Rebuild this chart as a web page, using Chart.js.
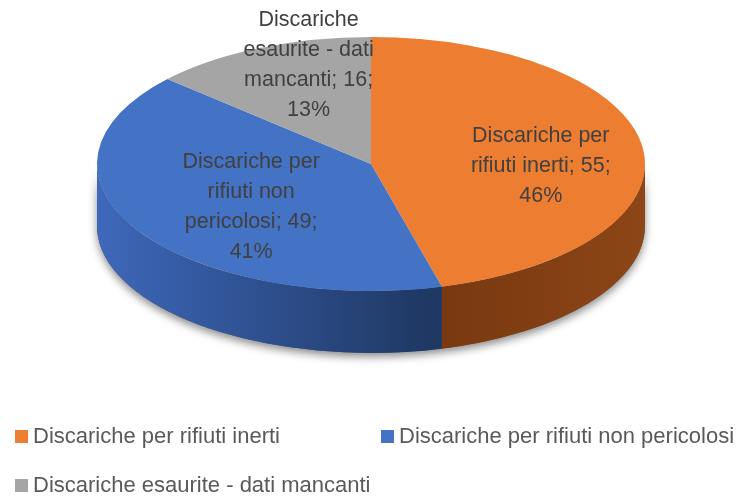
<!DOCTYPE html>
<html lang="it">
<head>
  <meta charset="UTF-8" />
  <title>Discariche</title>
  <script src="https://cdn.jsdelivr.net/npm/chart.js@4.4.1/dist/chart.umd.min.js"></script>
  <style>
    html, body {
      margin: 0;
      padding: 0;
      background: #ffffff;
    }
    .wrap {
      width: 743px;
      height: 497px;
    }
  </style>
</head>
<body>
  <div class="wrap">
    <canvas id="pieChart" width="743" height="497"></canvas>
  </div>

  <script>
    // Data
    const categories = [
      "Discariche per rifiuti inerti",
      "Discariche per rifiuti non pericolosi",
      "Discariche esaurite - dati mancanti"
    ];
    const counts = [55, 49, 16];

    // Colours (top face / side face gradient)
    const topColors = ["#ED7D31", "#4472C4", "#A5A5A5"];
    const sideColors = [["#8c4617", "#78370f"], ["#3e68ba", "#1f3864"], ["#8a8a8a", "#6e6e6e"]];

    // Look of the 3D pie
    const stretch = 274 / 127;   // horizontal / vertical radius
    const depth = 62;            // height of the side wall
    const labelK = [0.625, 0.513, 0.56];
    const labelDy = [12, 9, -34];
    const labelFont = "21.5px 'Liberation Sans', Arial, sans-serif";
    const legendFont = "22px 'Liberation Sans', Arial, sans-serif";
    const lineHeight = 30;

    const total = counts.reduce((a, b) => a + b, 0);

    // Simple greedy word wrap
    function wrapText(ctx, text, maxWidth) {
      const words = text.split(" ");
      const lines = [];
      let line = "";
      words.forEach(w => {
        const test = line ? line + " " + w : w;
        if (line && ctx.measureText(test).width > maxWidth) {
          lines.push(line);
          line = w;
        } else {
          line = test;
        }
      });
      if (line) lines.push(line);
      return lines;
    }

    const pie3d = {
      id: "pie3d",
      beforeDatasetsDraw(chart) {
        const ctx = chart.ctx;
        const arcs = chart.getDatasetMeta(0).data;
        const cx = arcs[0].x, cy = arcs[0].y, r = arcs[0].outerRadius;
        const rx = r * stretch;

        // soft shadow under the whole cylinder
        ctx.save();
        ctx.shadowColor = "rgba(0,0,0,0.45)";
        ctx.shadowBlur = 9;
        ctx.shadowOffsetY = 4;
        ctx.beginPath();
        ctx.ellipse(cx, cy, rx, r, 0, 0, Math.PI);
        ctx.ellipse(cx, cy + depth, rx, r, 0, Math.PI, 0, true);
        ctx.closePath();
        ctx.fillStyle = "#555";
        ctx.fill();
        ctx.restore();

        // side walls, only the front half is visible
        arcs.forEach((arc, i) => {
          const s = Math.max(arc.startAngle, 0);
          const e = Math.min(arc.endAngle, Math.PI);
          if (e <= s) return;
          const grad = ctx.createLinearGradient(cx - rx, 0, cx + rx, 0);
          if (i === 0) {
            grad.addColorStop(0, sideColors[i][1]);
            grad.addColorStop(0.6, sideColors[i][1]);
            grad.addColorStop(1, sideColors[i][0]);
          } else {
            grad.addColorStop(0, sideColors[i][0]);
            grad.addColorStop(0.6, sideColors[i][1]);
            grad.addColorStop(1, sideColors[i][1]);
          }
          ctx.beginPath();
          ctx.ellipse(cx, cy, rx, r, 0, s, e);
          ctx.ellipse(cx, cy + depth, rx, r, 0, e, s, true);
          ctx.closePath();
          ctx.fillStyle = grad;
          ctx.fill();
        });

        // stretch the pie horizontally for the top face
        ctx.save();
        ctx.translate(cx, 0);
        ctx.scale(stretch, 1);
        ctx.translate(-cx, 0);
      },
      afterDatasetsDraw(chart) {
        const ctx = chart.ctx;
        ctx.restore();

        const arcs = chart.getDatasetMeta(0).data;
        ctx.save();
        ctx.font = labelFont;
        ctx.fillStyle = "#404040";
        ctx.textAlign = "center";
        ctx.textBaseline = "middle";
        arcs.forEach((arc, i) => {
          const mid = (arc.startAngle + arc.endAngle) / 2;
          const r = arc.outerRadius;
          const x = arc.x + labelK[i] * r * stretch * Math.cos(mid);
          const y = arc.y + labelK[i] * r * Math.sin(mid) + labelDy[i];
          const pct = Math.round(counts[i] / total * 100);
          const text = categories[i] + "; " + counts[i] + "; " + pct + "%";
          const lines = wrapText(ctx, text, 152);
          const top = y - (lines.length - 1) * lineHeight / 2;
          lines.forEach((ln, j) => ctx.fillText(ln, x, top + j * lineHeight));
        });
        ctx.restore();
      },
      afterDraw(chart) {
        // legend at the bottom, two items per row
        const ctx = chart.ctx;
        const items = [
          { x: 15, y: 437 },
          { x: 381, y: 437 },
          { x: 15, y: 486 }
        ];
        ctx.save();
        ctx.font = legendFont;
        ctx.textBaseline = "middle";
        categories.forEach((name, i) => {
          const p = items[i];
          ctx.fillStyle = topColors[i];
          ctx.fillRect(p.x, p.y - 7, 13, 13);
          ctx.fillStyle = "#595959";
          ctx.fillText(name, p.x + 18, p.y);
        });
        ctx.restore();
      }
    };

    const ctx = document.getElementById("pieChart").getContext("2d");
    new Chart(ctx, {
      type: "pie",
      data: {
        labels: categories,
        datasets: [{
          data: counts,
          backgroundColor: topColors,
          borderWidth: 0,
          clip: false
        }]
      },
      options: {
        responsive: false,
        animation: false,
        events: [],
        layout: {
          padding: { top: 37, bottom: 206, left: 0, right: 1 }
        },
        plugins: {
          legend: { display: false },
          tooltip: { enabled: false }
        }
      },
      plugins: [pie3d]
    });
  </script>
</body>
</html>
